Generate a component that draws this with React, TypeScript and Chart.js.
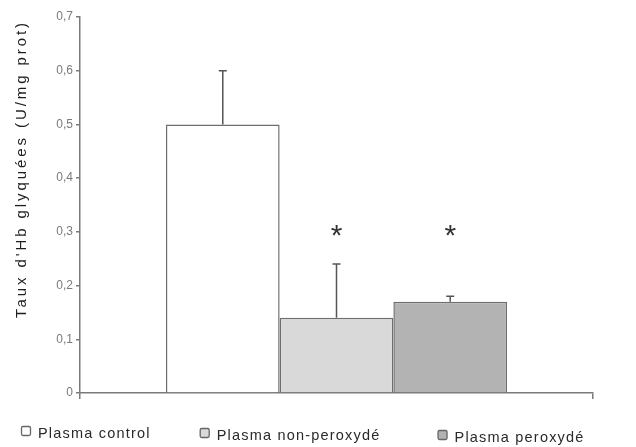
import React, { useEffect, useRef } from "react";
import { Chart, registerables } from "chart.js";

Chart.register(...registerables);

// ---- data ----
const categories = [""];
const seriesLabels = ["Plasma control", "Plasma non-peroxydé", "Plasma peroxydé"];
const controlValues = [0.5];
const nonPeroxValues = [0.14];
const peroxValues = [0.17];
const errorValues = [0.1, 0.1, 0.01];
const significanceMarks = ["", "*", "*"];
const markLevel = 0.3;
const yMin = 0;
const yMax = 0.7;
const yStep = 0.1;
const yTitle = "Taux d'Hb glyquées (U/mg prot)";

const fillColors = ["#ffffff", "#d9d9d9", "#b3b3b3"];
const edgeColor = "#6e6e6e";
const axisColor = "#7a7a7a";
const FONT = "'Liberation Sans', Arial, sans-serif";

const extrasPlugin = {
  id: "extras",
  afterDatasetsDraw(chart: any) {
    const ctx = chart.ctx;
    const y = chart.scales.y;
    chart.data.datasets.forEach((ds: any, i: number) => {
      const meta = chart.getDatasetMeta(i);
      const bar: any = meta.data[0];
      if (!bar) return;
      const v = ds.data[0];
      const top = y.getPixelForValue(v + errorValues[i]);
      const base = y.getPixelForValue(v);
      ctx.save();
      ctx.strokeStyle = "#555";
      ctx.lineWidth = 1.5;
      ctx.beginPath();
      ctx.moveTo(bar.x, base);
      ctx.lineTo(bar.x, top);
      ctx.moveTo(bar.x - 4, top);
      ctx.lineTo(bar.x + 4, top);
      ctx.stroke();
      if (significanceMarks[i]) {
        ctx.fillStyle = "#333";
        ctx.font = `30px ${FONT}`;
        ctx.textAlign = "center";
        ctx.textBaseline = "alphabetic";
        ctx.fillText(significanceMarks[i], bar.x, y.getPixelForValue(markLevel) + 30 * 0.45);
      }
      ctx.restore();
    });
  },
  afterDraw(chart: any) {
    const ctx = chart.ctx;
    const area = chart.chartArea;
    // y-axis title
    ctx.save();
    ctx.fillStyle = "#1e1e1e";
    ctx.font = `15px ${FONT}`;
    (ctx as any).letterSpacing = "0px";
    const natural = ctx.measureText(yTitle).width;
    const target = 298;
    (ctx as any).letterSpacing = `${(target - natural) / yTitle.length}px`;
    ctx.translate(26, area.top + 301);
    ctx.rotate(-Math.PI / 2);
    ctx.textAlign = "left";
    ctx.textBaseline = "alphabetic";
    ctx.fillText(yTitle, 0, 0);
    ctx.restore();

    // legend
    ctx.save();
    ctx.font = `14.5px ${FONT}`;
    (ctx as any).letterSpacing = "1.2px";
    ctx.textBaseline = "middle";
    ctx.textAlign = "left";
    let x = 21;
    const ly = area.bottom + 40;
    const offsets = [0, 2, 4];
    chart.data.datasets.forEach((ds: any, i: number) => {
      const cy = ly + offsets[i];
      ctx.fillStyle = ds.backgroundColor;
      ctx.strokeStyle = "#666";
      ctx.lineWidth = 1.3;
      ctx.beginPath();
      (ctx as any).roundRect(x + 0.5, cy - 6.5, 9, 9, 1.5);
      ctx.fill();
      ctx.stroke();
      ctx.fillStyle = "#2a2a2a";
      ctx.fillText(ds.label, x + 17, cy + 1);
      const w = ctx.measureText(ds.label).width;
      x += 17 + w + 49 + i * 8;
    });
    ctx.restore();
  },
};

export default function App() {
  const ref = useRef<HTMLCanvasElement>(null);
  useEffect(() => {
    document.body.style.margin = "0";
    const canvas = ref.current!;
    const chart = new Chart(canvas, {
      type: "bar",
      data: {
        labels: categories,
        datasets: [
          { label: seriesLabels[0], data: controlValues, backgroundColor: fillColors[0] },
          { label: seriesLabels[1], data: nonPeroxValues, backgroundColor: fillColors[1] },
          { label: seriesLabels[2], data: peroxValues, backgroundColor: fillColors[2] },
        ].map((d) => ({ ...d, borderColor: edgeColor, borderWidth: 1.5, borderSkipped: "bottom" as const })),
      },
      options: {
        animation: false,
        responsive: false,
        devicePixelRatio: 1,
        layout: { padding: { top: 17, right: 43, left: 0, bottom: 0 } },
        plugins: { legend: { display: false }, tooltip: { enabled: false }, title: { display: false } },
        datasets: { bar: { categoryPercentage: 0.665, barPercentage: 1 } },
        scales: {
          x: {
            offset: true,
            ticks: { display: false },
            grid: { display: true, drawOnChartArea: false, drawTicks: true, tickLength: 6, color: axisColor, lineWidth: 1.5 },
            border: { display: true, color: axisColor, width: 1.5 },
            afterFit: (s: any) => { s.height = 54; },
          },
          y: {
            min: yMin,
            max: yMax,
            ticks: {
              stepSize: yStep,
              padding: 3,
              color: "#7a7a7a",
              font: { family: FONT, size: 12 },
              callback: (v: any) => (Number(v) === 0 ? "0" : Number(v).toFixed(1).replace(".", ",")),
            },
            grid: { display: true, drawOnChartArea: false, drawTicks: true, tickLength: 4, color: axisColor, lineWidth: 1.5 },
            border: { display: true, color: axisColor, width: 1.5 },
            afterFit: (s: any) => { s.width = 80; },
          },
        },
      },
      plugins: [extrasPlugin],
    });
    return () => chart.destroy();
  }, []);
  return (
    <div style={{ width: 636, height: 447, background: "#fff" }}>
      <canvas ref={ref} width={636} height={447} style={{ display: "block" }} />
    </div>
  );
}
